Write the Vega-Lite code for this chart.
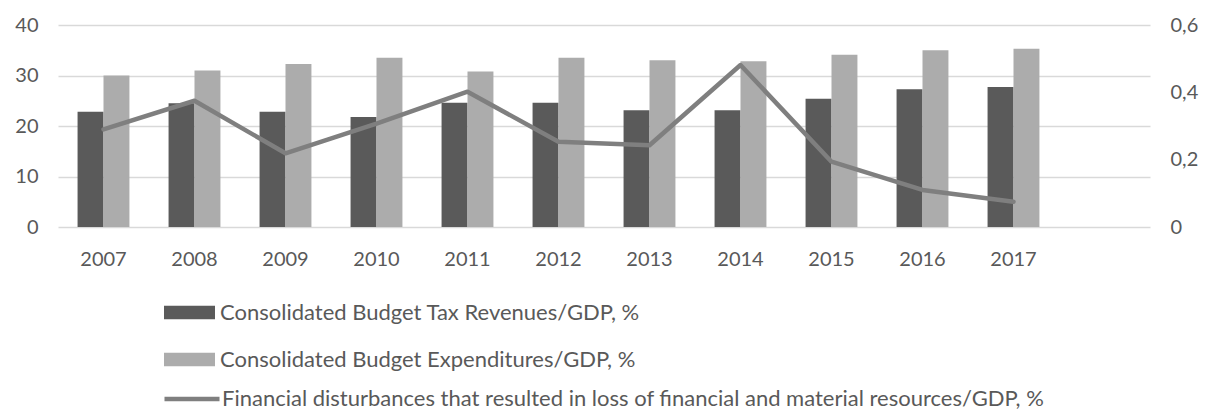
{
  "$schema": "https://vega.github.io/schema/vega-lite/v6.json",
  "width": 1092,
  "height": 202,
  "autosize": "none",
  "padding": {"left": 58, "top": 25, "right": 55, "bottom": 183},
  "background": "white",
  "datasets": {
    "bars": [
      {"year": "2007", "series": "Consolidated Budget Tax Revenues/GDP, %", "value": 22.8},
      {"year": "2008", "series": "Consolidated Budget Tax Revenues/GDP, %", "value": 24.5},
      {"year": "2009", "series": "Consolidated Budget Tax Revenues/GDP, %", "value": 22.8},
      {"year": "2010", "series": "Consolidated Budget Tax Revenues/GDP, %", "value": 21.8},
      {"year": "2011", "series": "Consolidated Budget Tax Revenues/GDP, %", "value": 24.6},
      {"year": "2012", "series": "Consolidated Budget Tax Revenues/GDP, %", "value": 24.6},
      {"year": "2013", "series": "Consolidated Budget Tax Revenues/GDP, %", "value": 23.1},
      {"year": "2014", "series": "Consolidated Budget Tax Revenues/GDP, %", "value": 23.1},
      {"year": "2015", "series": "Consolidated Budget Tax Revenues/GDP, %", "value": 25.4},
      {"year": "2016", "series": "Consolidated Budget Tax Revenues/GDP, %", "value": 27.3},
      {"year": "2017", "series": "Consolidated Budget Tax Revenues/GDP, %", "value": 27.7},
      {"year": "2007", "series": " Consolidated Budget Expenditures/GDP, %", "value": 30.0},
      {"year": "2008", "series": " Consolidated Budget Expenditures/GDP, %", "value": 31.0},
      {"year": "2009", "series": " Consolidated Budget Expenditures/GDP, %", "value": 32.3},
      {"year": "2010", "series": " Consolidated Budget Expenditures/GDP, %", "value": 33.5},
      {"year": "2011", "series": " Consolidated Budget Expenditures/GDP, %", "value": 30.8},
      {"year": "2012", "series": " Consolidated Budget Expenditures/GDP, %", "value": 33.5},
      {"year": "2013", "series": " Consolidated Budget Expenditures/GDP, %", "value": 33.0},
      {"year": "2014", "series": " Consolidated Budget Expenditures/GDP, %", "value": 32.8},
      {"year": "2015", "series": " Consolidated Budget Expenditures/GDP, %", "value": 34.1},
      {"year": "2016", "series": " Consolidated Budget Expenditures/GDP, %", "value": 35.0},
      {"year": "2017", "series": " Consolidated Budget Expenditures/GDP, %", "value": 35.3}
    ],
    "line": [
      {"year": "2007", "series": "Financial disturbances that resulted in loss of financial and material resources/GDP, %", "value": 0.29},
      {"year": "2008", "series": "Financial disturbances that resulted in loss of financial and material resources/GDP, %", "value": 0.375},
      {"year": "2009", "series": "Financial disturbances that resulted in loss of financial and material resources/GDP, %", "value": 0.219},
      {"year": "2010", "series": "Financial disturbances that resulted in loss of financial and material resources/GDP, %", "value": 0.307},
      {"year": "2011", "series": "Financial disturbances that resulted in loss of financial and material resources/GDP, %", "value": 0.402},
      {"year": "2012", "series": "Financial disturbances that resulted in loss of financial and material resources/GDP, %", "value": 0.253},
      {"year": "2013", "series": "Financial disturbances that resulted in loss of financial and material resources/GDP, %", "value": 0.243},
      {"year": "2014", "series": "Financial disturbances that resulted in loss of financial and material resources/GDP, %", "value": 0.481},
      {"year": "2015", "series": "Financial disturbances that resulted in loss of financial and material resources/GDP, %", "value": 0.194},
      {"year": "2016", "series": "Financial disturbances that resulted in loss of financial and material resources/GDP, %", "value": 0.11},
      {"year": "2017", "series": "Financial disturbances that resulted in loss of financial and material resources/GDP, %", "value": 0.075}
    ]
  },
  "layer": [
    {
      "data": {"name": "bars"},
      "mark": {"type": "bar"},
      "encoding": {
        "x": {
          "field": "year", "type": "nominal",
          "scale": {"domain": ["2007","2008","2009","2010","2011","2012","2013","2014","2015","2016","2017"," "], "paddingInner": 0.43, "paddingOuter": 0.215},
          "axis": {"title": null, "labelAngle": 0, "ticks": false, "domain": false, "labelPadding": 22, "labelFontSize": 20, "grid": false}
        },
        "xOffset": {
          "field": "series", "type": "nominal",
          "scale": {"domain": ["Consolidated Budget Tax Revenues/GDP, %", " Consolidated Budget Expenditures/GDP, %"], "paddingInner": 0, "paddingOuter": 0}
        },
        "y": {
          "field": "value", "type": "quantitative",
          "scale": {"domain": [0, 40]},
          "axis": {"title": null, "values": [0,10,20,30,40], "ticks": false, "domain": false, "labelPadding": 20, "labelFontSize": 20, "grid": true, "gridColor": "#d9d9d9", "gridWidth": 1.5}
        },
        "color": {
          "field": "series", "type": "nominal",
          "scale": {"domain": ["Consolidated Budget Tax Revenues/GDP, %", " Consolidated Budget Expenditures/GDP, %"], "range": ["#5a5a5a", "#acacac"]},
          "legend": {
            "title": null, "orient": "none", "legendX": 106, "legendY": 262, "direction": "vertical",
            "symbolType": "M-1,-0.26L1,-0.26L1,0.26L-1,0.26Z", "symbolSize": 2601,
            "symbolStrokeWidth": 0, "labelFontSize": 22, "labelLimit": 1000, "labelOffset": 5, "rowPadding": 10
          }
        }
      }
    },
    {
      "data": {"name": "line"},
      "mark": {"type": "line", "strokeWidth": 4.5, "strokeCap": "round", "strokeJoin": "round"},
      "encoding": {
        "x": {"field": "year", "type": "nominal"},
        "y": {
          "field": "value", "type": "quantitative",
          "scale": {"domain": [0, 0.6]},
          "axis": {"title": null, "orient": "right", "values": [0, 0.2, 0.4, 0.6], "ticks": false, "domain": false, "grid": false, "labelPadding": 20, "labelFontSize": 20,
            "labelExpr": "datum.value == 0 ? '0' : replace(format(datum.value, '.1f'), '.', ',')"}
        },
        "stroke": {
          "field": "series", "type": "nominal",
          "scale": {"range": ["#7f7f7f"]},
          "legend": {
            "title": null, "orient": "none", "legendX": 104, "legendY": 344,
            "symbolType": "stroke", "symbolSize": 3025, "symbolStrokeWidth": 4.5,
            "labelFontSize": 22, "labelLimit": 1000, "labelOffset": 0
          }
        }
      }
    }
  ],
  "resolve": {"scale": {"y": "independent"}},
  "config": {
    "view": {"stroke": null},
    "font": "Lato",
    "axis": {"labelColor": "#595959", "labelFont": "Lato"},
    "legend": {"labelColor": "#595959", "labelFont": "Lato"}
  }
}
